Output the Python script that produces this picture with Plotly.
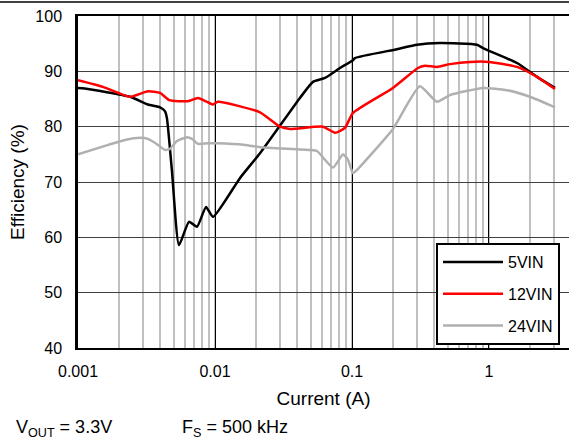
import numpy as np
import plotly.graph_objects as go

# 5VIN (black)
i_5 = [0.001, 0.00112, 0.0024, 0.00324, 0.00397, 0.00431, 0.00446, 0.00485, 0.00546,
       0.00646, 0.00739, 0.0086, 0.00967, 0.0152, 0.0213, 0.0417, 0.0519, 0.0635,
       0.0817, 0.1017, 0.105, 0.213, 0.298, 0.438, 0.817, 0.904, 1.6, 2.24, 3.03]
e_5 = [87.0, 86.9, 85.4, 84.0, 83.5, 82.8, 81.5, 72.0, 58.6,
       62.8, 61.9, 65.5, 63.7, 70.7, 75.2, 85.2, 88.1, 88.8,
       90.6, 92.0, 92.4, 94.0, 94.8, 95.1, 94.8, 94.2, 91.5, 89.0, 87.0]

# 12VIN (red)
i_12 = [0.001, 0.00152, 0.0024, 0.00324, 0.00397, 0.00463, 0.00635, 0.00751, 0.00874,
        0.00967, 0.0105, 0.0213, 0.0298, 0.0353, 0.0614, 0.0751, 0.0889, 0.1017,
        0.199, 0.303, 0.341, 0.417, 0.519, 0.727, 1.0, 1.6, 2.24, 3.03]
e_12 = [88.4, 87.2, 85.4, 86.4, 86.1, 84.8, 84.6, 85.2, 84.5,
        84.0, 84.5, 82.6, 80.0, 79.6, 80.0, 78.9, 79.8, 82.5,
        87.0, 90.6, 91.0, 90.8, 91.3, 91.7, 91.7, 90.8, 89.0, 86.8]

# 24VIN (gray)
i_24 = [0.001, 0.00166, 0.0022, 0.00284, 0.00324, 0.00384, 0.00431, 0.00469, 0.00528,
        0.00625, 0.0068, 0.00751, 0.00889, 0.0105, 0.0166, 0.0213, 0.0493, 0.0555,
        0.0727, 0.086, 0.0935, 0.1017, 0.109, 0.199, 0.313, 0.417, 0.519, 0.904,
        1.35, 1.99, 3.03]
e_24 = [75.0, 76.7, 77.6, 78.0, 77.8, 76.7, 75.8, 76.0, 77.4,
        78.1, 77.8, 76.9, 77.0, 77.0, 76.7, 76.3, 75.8, 75.6,
        72.6, 75.0, 74.0, 71.6, 72.2, 79.6, 87.3, 84.5, 85.7, 87.0,
        86.6, 85.4, 83.5]

series = [("5VIN", i_5, e_5, "#000000"),
          ("12VIN", i_12, e_12, "#ff0000"),
          ("24VIN", i_24, e_24, "#b0b0b0")]

x_ticks = [0.001, 0.01, 0.1, 1]
x_tick_text = ["0.001", "0.01", "0.1", "1"]
y_ticks = [40, 50, 60, 70, 80, 90, 100]

FONT = "Liberation Sans, Arial, sans-serif"
W, H = 569, 443

fig = go.Figure()
for name, xs, ys, col in series:
    fig.add_trace(go.Scatter(x=xs, y=ys, name=name, mode="lines", legendgroup=name,
                             line=dict(color=col, width=2.5, shape="spline", smoothing=0.5)))

fig.update_layout(
    width=W, height=H,
    margin=dict(l=0, r=0, t=0, b=0, pad=0),
    paper_bgcolor="white", plot_bgcolor="white",
    font=dict(family=FONT, size=16, color="black"),
    showlegend=True,
    legend=dict(x=436 / W, y=(H - 243) / H, xanchor="left", yanchor="top",
                bordercolor="black", borderwidth=2, bgcolor="white",
                font=dict(size=16), traceorder="grouped", tracegroupgap=8,
                itemwidth=60),
    xaxis=dict(type="log", range=[-3, 0.584], domain=[78 / W, 1.0],
               tickvals=x_ticks, ticktext=x_tick_text,
               showgrid=True, gridcolor="#000000", gridwidth=1,
               minor=dict(dtick="D1", showgrid=True, gridcolor="#c0c0c0", gridwidth=2, ticks=""),
               showline=True, linecolor="black", linewidth=2, mirror=True,
               ticks="", ticklabelstandoff=8, zeroline=False, automargin=False,
               title=dict(text="Current (A)", standoff=12)),
    yaxis=dict(range=[40, 100], domain=[(H - 348) / H, (H - 16) / H], tickvals=y_ticks,
               showgrid=True, gridcolor="#404040",
               gridwidth=1, showline=True, linecolor="black", linewidth=2.5,
               ticks="", ticklabelstandoff=10, zeroline=False, automargin=False,
               title=dict(text="Efficiency (%)", standoff=6)),
    shapes=[dict(type="line", xref="paper", yref="paper",
                 x0=0.0, x1=1.0, y0=(H - 2) / H, y1=(H - 2) / H, layer="above",
                 line=dict(color="black", width=1.5))],
    annotations=[
        dict(text="V<sub>OUT</sub> = 3.3V", xref="paper", yref="paper", x=14 / W, y=(H - 428) / H,
             xanchor="left", yanchor="middle", showarrow=False, font=dict(size=18)),
        dict(text="F<sub>S</sub> = 500 kHz", xref="paper", yref="paper", x=180 / W, y=(H - 428) / H,
             xanchor="left", yanchor="middle", showarrow=False, font=dict(size=18)),
    ],
)

fig.write_html("out.html", config={"displayModeBar": False},
               post_script="document.body.style.margin='0';document.body.style.overflow='hidden';")
